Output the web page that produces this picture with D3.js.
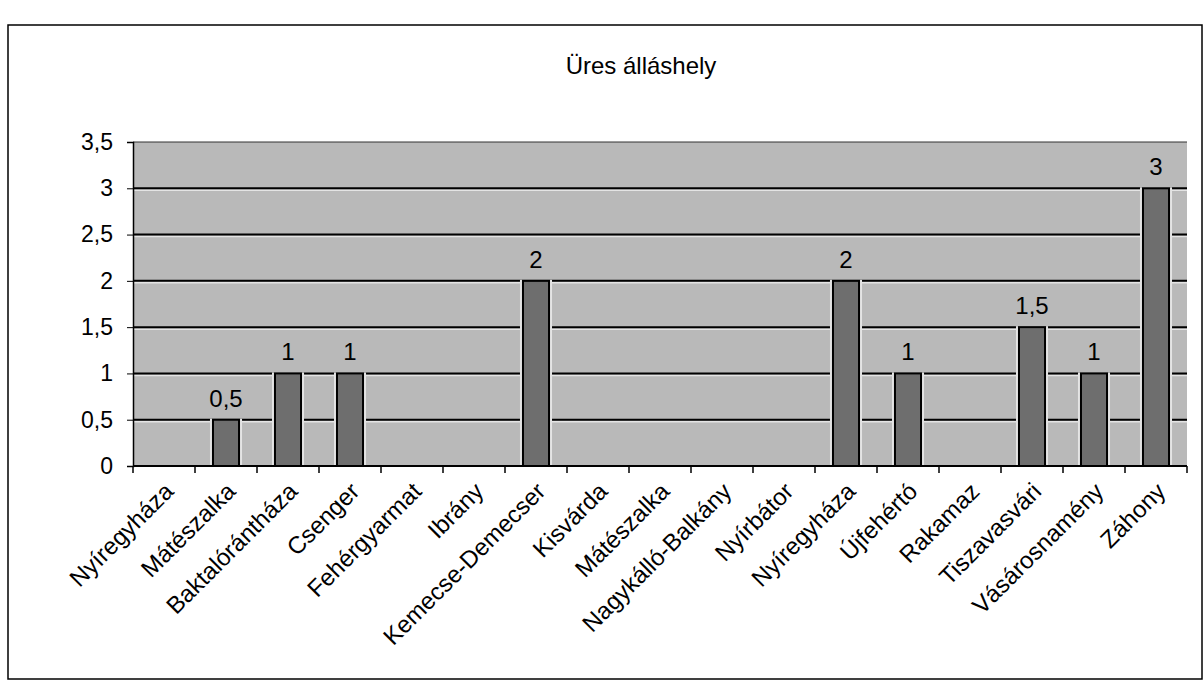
<!DOCTYPE html>
<html>
<head>
<meta charset="utf-8">
<script src="https://cdn.jsdelivr.net/npm/d3@7"></script>
<style>
  body { margin: 0; background: #fff; }
  text { font-family: "Liberation Sans", Arial, sans-serif; fill: #000; }
</style>
</head>
<body>
<script>
// chart data
const categories = ['Nyíregyháza', 'Mátészalka', 'Baktalórántháza', 'Csenger', 'Fehérgyarmat', 'Ibrány',
  'Kemecse-Demecser', 'Kisvárda', 'Mátészalka', 'Nagykálló-Balkány', 'Nyírbátor', 'Nyíregyháza',
  'Újfehértó', 'Rakamaz', 'Tiszavasvári', 'Vásárosnamény', 'Záhony'];
const values = [0, 0.5, 1, 1, 0, 0, 2, 0, 0, 0, 0, 2, 1, 0, 1.5, 1, 3];
const yTicks = [0, 0.5, 1, 1.5, 2, 2.5, 3, 3.5];
const titleText = 'Üres álláshely';

const width = 1204;
const height = 689;
const margin = { top: 142, right: 17, bottom: 223, left: 133 };
const innerWidth = width - margin.left - margin.right;
const innerHeight = height - margin.top - margin.bottom;

const fmt = d => String(d).replace('.', ',');

const svg = d3.select('body').append('svg')
  .attr('width', width)
  .attr('height', height);

// outer frame
svg.append('rect')
  .attr('x', 8).attr('y', 25)
  .attr('width', 1194).attr('height', 654)
  .attr('fill', 'none')
  .attr('stroke', '#000')
  .attr('stroke-width', 1.5);

svg.append('text')
  .attr('x', 641).attr('y', 74)
  .attr('text-anchor', 'middle')
  .style('font-size', '24px')
  .text(titleText);

const g = svg.append('g')
  .attr('transform', `translate(${margin.left}, ${margin.top})`);

const xScale = d3.scaleBand()
  .domain(d3.range(categories.length))
  .range([0, innerWidth]);

const yScale = d3.scaleLinear()
  .domain([0, 3.5])
  .range([innerHeight, 0]);

// plot background
g.append('rect')
  .attr('width', innerWidth)
  .attr('height', innerHeight)
  .attr('fill', '#b9b9b9');

// gridlines with a light line under each
g.selectAll('.grid-light').data(yTicks.slice(1, -1))
  .enter().append('line')
  .attr('x1', 0).attr('x2', innerWidth)
  .attr('y1', d => yScale(d) + 2).attr('y2', d => yScale(d) + 2)
  .attr('stroke', '#e4e4e4')
  .attr('stroke-width', 1.5);

g.selectAll('.grid').data(yTicks.slice(1, -1))
  .enter().append('line')
  .attr('x1', 0).attr('x2', innerWidth)
  .attr('y1', d => yScale(d)).attr('y2', d => yScale(d))
  .attr('stroke', '#000')
  .attr('stroke-width', 2);

// top edge of plot area
g.append('line')
  .attr('x1', 0).attr('x2', innerWidth)
  .attr('y1', 0).attr('y2', 0)
  .attr('stroke', '#333')
  .attr('stroke-width', 1);

// bars
const barData = values.map((v, i) => ({ v, i })).filter(d => d.v > 0);
const barW = xScale.bandwidth() * 0.42;

g.selectAll('.bar-gap').data(barData)
  .enter().append('rect')
  .attr('x', d => xScale(d.i) + (xScale.bandwidth() - barW) / 2 - 3)
  .attr('y', d => yScale(d.v) - 1)
  .attr('width', barW + 6)
  .attr('height', d => innerHeight - yScale(d.v) + 1)
  .attr('fill', '#e4e4e4');

g.selectAll('.bar').data(barData)
  .enter().append('rect')
  .attr('class', 'bar')
  .attr('x', d => xScale(d.i) + (xScale.bandwidth() - barW) / 2)
  .attr('y', d => yScale(d.v))
  .attr('width', barW)
  .attr('height', d => innerHeight - yScale(d.v))
  .attr('fill', '#6e6e6e')
  .attr('stroke', '#000')
  .attr('stroke-width', 2);

// value labels
g.selectAll('.label').data(barData)
  .enter().append('text')
  .attr('x', d => xScale(d.i) + xScale.bandwidth() / 2)
  .attr('y', d => yScale(d.v) - 13)
  .attr('text-anchor', 'middle')
  .style('font-size', '24px')
  .text(d => fmt(d.v));

// y axis
const yAxis = d3.axisLeft(yScale)
  .tickValues(yTicks)
  .tickFormat(fmt)
  .tickSize(6)
  .tickPadding(14);

const yAxisG = g.append('g').call(yAxis);
yAxisG.select('.domain').attr('stroke', '#000').attr('stroke-width', 1.5);
yAxisG.selectAll('text').style('font-size', '23px').style('font-family', '"Liberation Sans", Arial, sans-serif');

// x axis
const xAxisG = g.append('g')
  .attr('transform', `translate(0, ${innerHeight})`);

xAxisG.append('line')
  .attr('x1', 0).attr('x2', innerWidth)
  .attr('stroke', '#000').attr('stroke-width', 2);

xAxisG.selectAll('.xtick').data(d3.range(categories.length + 1))
  .enter().append('line')
  .attr('x1', d => d * xScale.step()).attr('x2', d => d * xScale.step())
  .attr('y1', 0).attr('y2', 7)
  .attr('stroke', '#000').attr('stroke-width', 1.5);

xAxisG.selectAll('.xlabel').data(categories)
  .enter().append('text')
  .attr('transform', (d, i) => `translate(${xScale(i) + xScale.bandwidth() / 2 - 1}, 15) rotate(-45)`)
  .attr('text-anchor', 'end')
  .attr('dy', '0.7em')
  .style('font-size', '24px')
  .text(d => d);
</script>
</body>
</html>
